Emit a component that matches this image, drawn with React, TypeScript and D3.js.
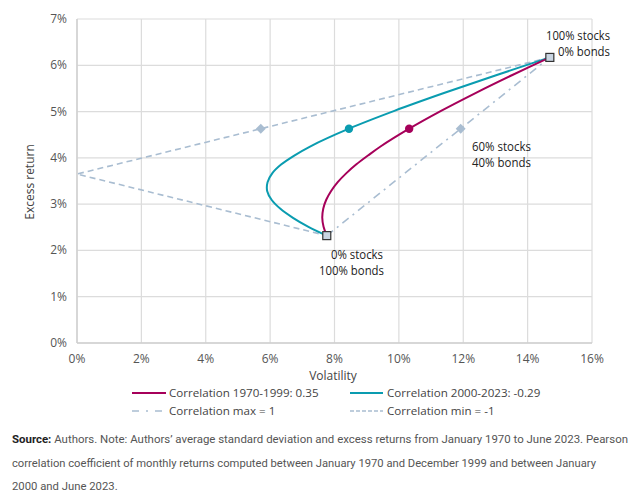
import React from "react";
import * as d3 from "d3";

// Data: volatility (%) and excess return (%)
const corr1970Vol = [7.76, 7.66, 7.62, 7.65, 7.74, 7.89, 8.10, 8.37, 8.68, 9.04, 9.43, 10.32, 11.31, 12.38, 13.51, 14.69];
const corr1970Ret = [2.32, 2.51, 2.705, 2.90, 3.09, 3.28, 3.475, 3.67, 3.86, 4.05, 4.245, 4.63, 5.015, 5.40, 5.785, 6.17];
const corr2000Vol = [7.76, 7.19, 6.71, 6.32, 6.05, 5.91, 5.92, 6.07, 6.35, 6.75, 7.24, 8.45, 9.86, 11.40, 13.02, 14.69];
const corr2000Ret = [2.32, 2.51, 2.705, 2.90, 3.09, 3.28, 3.475, 3.67, 3.86, 4.05, 4.245, 4.63, 5.015, 5.40, 5.785, 6.17];
const corrMaxVol = [7.76, 14.69];
const corrMaxRet = [2.32, 6.17];
const corrMinVol = [14.69, 0, 7.76];
const corrMinRet = [6.17, 3.65, 2.32];
// 60/40 portfolio markers: [vol, ret]
const mark1970 = [10.32, 4.63];
const mark2000 = [8.45, 4.63];
const markMax = [11.92, 4.63];
const markMin = [5.71, 4.63];
const endpoints = [[14.69, 6.17], [7.76, 2.32]];
const xTicks = [0, 2, 4, 6, 8, 10, 12, 14, 16];
const yTicks = [0, 1, 2, 3, 4, 5, 6, 7];

const MAGENTA = "#A6005A";
const TEAL = "#0A9CB0";
const GREYBLUE = "#A9BDD1";
const FONT = "'Open Sans', 'Noto Sans', sans-serif";

export default function App() {
  const W = 640, H = 501;
  const x = d3.scaleLinear().domain([0, 16]).range([77, 592]);
  const y = d3.scaleLinear().domain([0, 7]).range([343, 19]);
  const line = d3.line<[number, number]>().x(d => x(d[0])).y(d => y(d[1]));
  const curve = d3.line<[number, number]>().x(d => x(d[0])).y(d => y(d[1])).curve(d3.curveCatmullRom);
  const zip = (a: number[], b: number[]) => a.map((v, i) => [v, b[i]] as [number, number]);

  return (
    <svg width={W} height={H} style={{ position: "absolute", left: 0, top: 0, background: "#fff" }} fontFamily={FONT}>
      {/* gridlines */}
      {xTicks.map(t => (
        <line key={"gx" + t} x1={x(t)} x2={x(t)} y1={y(7)} y2={y(0)} stroke="#dcdcdc" strokeWidth={1.2} />
      ))}
      {yTicks.map(t => (
        <line key={"gy" + t} x1={x(0)} x2={x(16)} y1={y(t)} y2={y(t)} stroke="#dcdcdc" strokeWidth={1.2} />
      ))}
      <line x1={x(0)} x2={x(16)} y1={y(0)} y2={y(0)} stroke="#cfcfcf" strokeWidth={1.4} />
      <line x1={x(0)} x2={x(0)} y1={y(7)} y2={y(0)} stroke="#cfcfcf" strokeWidth={1.4} />
      {/* tick labels */}
      {xTicks.map(t => (
        <text key={"tx" + t} x={x(t)} y={y(0) + 20} textAnchor="middle" fontSize={12} fill="#555">{t}%</text>
      ))}
      {yTicks.map(t => (
        <text key={"ty" + t} x={x(0) - 10} y={y(t) + 4} textAnchor="end" fontSize={12} fill="#555">{t}%</text>
      ))}
      <text x={333} y={380} textAnchor="middle" fontSize={12} fill="#444">Volatility</text>
      <text transform={`translate(34,182) rotate(-90)`} textAnchor="middle" fontSize={12} fill="#444">Excess return</text>

      {/* min / max correlation lines */}
      <path d={line(zip(corrMinVol, corrMinRet)) || ""} fill="none" stroke={GREYBLUE} strokeWidth={1.6} strokeDasharray="6,4" />
      <path d={line(zip(corrMaxVol, corrMaxRet)) || ""} fill="none" stroke={GREYBLUE} strokeWidth={1.6} strokeDasharray="8,5,2,5" />

      {/* curves */}
      <path d={curve(zip(corr2000Vol, corr2000Ret)) || ""} fill="none" stroke={TEAL} strokeWidth={2} />
      <path d={curve(zip(corr1970Vol, corr1970Ret)) || ""} fill="none" stroke={MAGENTA} strokeWidth={2} />

      {/* markers */}
      {[markMax, markMin].map((m, i) => (
        <rect key={"d" + i} x={x(m[0]) - 3.5} y={y(m[1]) - 3.5} width={7} height={7} fill={GREYBLUE}
          transform={`rotate(45 ${x(m[0])} ${y(m[1])})`} />
      ))}
      <circle cx={x(mark2000[0])} cy={y(mark2000[1])} r={4.2} fill={TEAL} />
      <circle cx={x(mark1970[0])} cy={y(mark1970[1])} r={4.2} fill={MAGENTA} />
      {endpoints.map((p, i) => (
        <rect key={"e" + i} x={x(p[0]) - 4} y={y(p[1]) - 4} width={8} height={8} fill="#C9D5E2" stroke="#333" strokeWidth={1.2} />
      ))}

      {/* annotations */}
      <g fontSize={12} fill="#222">
        <text x={610} y={40} textAnchor="end" textLength={64} lengthAdjust="spacingAndGlyphs">100% stocks</text>
        <text x={610} y={56} textAnchor="end" textLength={52} lengthAdjust="spacingAndGlyphs">0% bonds</text>
        <text x={472} y={151} textLength={59} lengthAdjust="spacingAndGlyphs">60% stocks</text>
        <text x={472} y={167} textLength={59} lengthAdjust="spacingAndGlyphs">40% bonds</text>
        <text x={383} y={259} textAnchor="end" textLength={52} lengthAdjust="spacingAndGlyphs">0% stocks</text>
        <text x={384} y={275} textAnchor="end" textLength={65} lengthAdjust="spacingAndGlyphs">100% bonds</text>
      </g>

      {/* legend */}
      <g fontSize={11.6} fill="#444">
        <line x1={132} x2={166} y1={393} y2={393} stroke={MAGENTA} strokeWidth={2} />
        <text x={169} y={397}>Correlation 1970-1999: 0.35</text>
        <line x1={350} x2={383} y1={393} y2={393} stroke={TEAL} strokeWidth={2} />
        <text x={387} y={397}>Correlation 2000-2023: -0.29</text>
        <line x1={132} x2={166} y1={411} y2={411} stroke={GREYBLUE} strokeWidth={1.6} strokeDasharray="7,7,2,7" />
        <text x={169} y={415}>Correlation max = 1</text>
        <line x1={350} x2={383} y1={411} y2={411} stroke={GREYBLUE} strokeWidth={1.6} strokeDasharray="4,2" />
        <text x={387} y={415}>Correlation min = -1</text>
      </g>

      {/* source note */}
      <g fontSize={11.3} fill="#555" fontFamily="Roboto, sans-serif">
        <text x={12} y={443} textLength={616} lengthAdjust="spacingAndGlyphs">
          <tspan fontWeight="bold" fill="#222">Source:</tspan> Authors. Note: Authors’ average standard deviation and excess returns from January 1970 to June 2023. Pearson
        </text>
        <text x={12} y={467} textLength={584} lengthAdjust="spacingAndGlyphs">correlation coefficient of monthly returns computed between January 1970 and December 1999 and between January</text>
        <text x={12} y={490}>2000 and June 2023.</text>
      </g>
    </svg>
  );
}
